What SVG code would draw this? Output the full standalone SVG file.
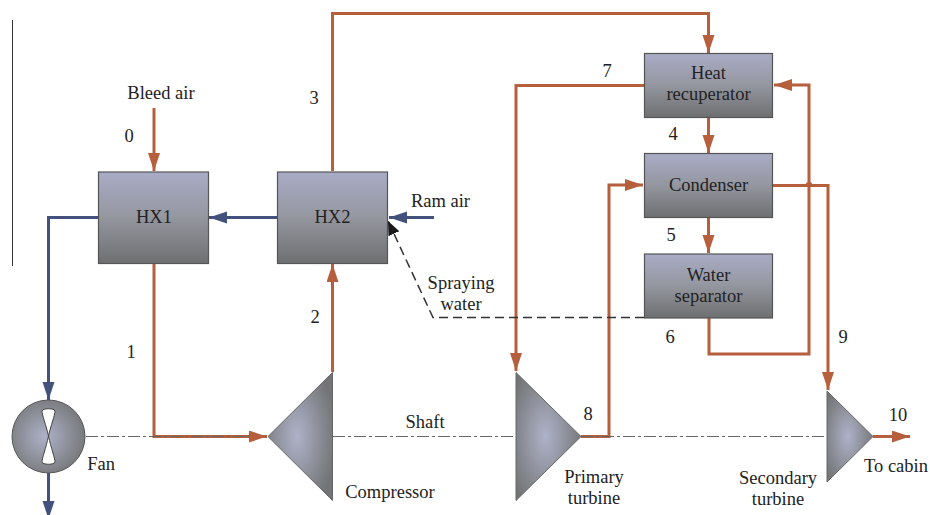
<svg xmlns="http://www.w3.org/2000/svg" width="930" height="515" viewBox="0 0 930 515">
<defs>
<linearGradient id="box" x1="0" y1="0" x2="0" y2="1"><stop offset="0" stop-color="#a9acc6"/><stop offset="0.5" stop-color="#94969f"/><stop offset="1" stop-color="#6e6f70"/></linearGradient>
<radialGradient id="tri" cx="0.45" cy="0.5" r="0.6"><stop offset="0" stop-color="#aeb2c8"/><stop offset="1" stop-color="#737475"/></radialGradient>
<marker id="r" markerUnits="userSpaceOnUse" markerWidth="19" markerHeight="14" refX="18" refY="6" orient="auto"><path d="M0 0L18 6L0 12Z" fill="#b65f3d"/></marker>
<marker id="b" markerUnits="userSpaceOnUse" markerWidth="19" markerHeight="14" refX="18" refY="6" orient="auto"><path d="M0 0L18 6L0 12Z" fill="#43527d"/></marker>
<marker id="k" markerUnits="userSpaceOnUse" markerWidth="18" markerHeight="14" refX="14" refY="6" orient="auto"><path d="M0 0L14 6L0 12Z" fill="#1a1a1a"/></marker>
</defs>
<style>
text{font-family:"Liberation Serif","Times New Roman",serif;font-size:18.5px;fill:#222;text-anchor:middle}
.n{fill:url(#box);stroke:#555;stroke-width:1.2}
.t{fill:url(#tri);stroke:#666;stroke-width:1}
.red,.blue,.dash,.shaft{fill:none}
.red{stroke:#b65f3d;stroke-width:3}
.blue{stroke:#43527d;stroke-width:3}
.dash{stroke:#333;stroke-width:1.5;stroke-dasharray:9 5}
.shaft{stroke:#666;stroke-width:1.2;stroke-dasharray:12 3 3 3}
</style>
<path d="M12.500 20V266" stroke="#333" stroke-width="1" fill="none"/>
<g id="connectors">
<path class="red" d="M154 108V171" marker-end="url(#r)"/>
<path class="red" d="M154 264V436.500H267" marker-end="url(#r)"/>
<path class="red" d="M332.500 372V264" marker-end="url(#r)"/>
<path class="red" d="M332.500 171V13.500H708.500V53" marker-end="url(#r)"/>
<path class="red" d="M644 85.500H516V371" marker-end="url(#r)"/>
<path class="red" d="M708.500 117V153" marker-end="url(#r)"/>
<path class="red" d="M708.500 217V253" marker-end="url(#r)"/>
<path class="red" d="M581 436.500H609V185H643" marker-end="url(#r)"/>
<path class="red" d="M709 318V354H809V85H774" marker-end="url(#r)"/>
<path class="red" d="M773 185.500H828V390" marker-end="url(#r)"/>
<path d="M805.500 185.500a3.500 3.500 0 0 1 7 0" fill="#b65f3d"/>
<path class="red" d="M873 436.500H910" marker-end="url(#r)"/>
<path class="blue" d="M277 217.500H209" marker-end="url(#b)"/>
<path class="blue" d="M434 217.500H389" marker-end="url(#b)"/>
<path class="blue" d="M98 217.500H48.500V400" marker-end="url(#b)"/>
<path class="blue" d="M48.500 473V519" marker-end="url(#b)"/>
<path class="dash" d="M644 317.500H433L388 221" marker-end="url(#k)"/>
<path class="shaft" d="M86 436.500H250M333 436.500H516M581 436.500H827"/>
</g>
<g id="hx1"><rect class="n" x="98.500" y="172" width="110" height="91.500"/><text x="154" y="223">HX1</text></g>
<g id="hx2"><rect class="n" x="277.500" y="172" width="110" height="91.500"/><text x="332.500" y="223">HX2</text></g>
<g id="heat-recuperator"><rect class="n" x="644.500" y="53.500" width="128" height="64"/><text x="708.500" y="79">Heat</text><text x="708.500" y="100">recuperator</text></g>
<g id="condenser"><rect class="n" x="644.500" y="153.500" width="128" height="64"/><text x="708.500" y="191">Condenser</text></g>
<g id="water-separator"><rect class="n" x="644.500" y="254" width="128" height="64"/><text x="708.500" y="281">Water</text><text x="708.500" y="302">separator</text></g>
<g id="compressor"><path class="t" d="M268 436.500L332.500 372.500V500.500Z"/><text x="390" y="498">Compressor</text></g>
<g id="primary-turbine"><path class="t" d="M516 372.500L581 436.500L516 500.500Z"/><text x="594" y="483">Primary</text><text x="594" y="504">turbine</text></g>
<g id="secondary-turbine"><path class="t" d="M827 391L873 436.500L827 482Z"/><text x="778" y="484">Secondary</text><text x="778" y="505">turbine</text></g>
<g id="fan"><circle cx="48.500" cy="436.500" r="36.500" fill="url(#tri)" stroke="#555" stroke-width="1"/><path d="M48.500 436C46 425 42 415 42 411C42 408 55 408 55 411C55 415 51 425 48.500 436C51 448 55 458 55 462C55 465 42 465 42 462C42 458 46 448 48.500 436Z" fill="#fff" stroke="#444"/><text x="101" y="470">Fan</text></g>
<g id="labels">
<text x="161" y="99">Bleed air</text>
<text x="129" y="142">0</text><text x="131" y="358">1</text><text x="315" y="323">2</text><text x="314" y="104">3</text>
<text x="673" y="140">4</text><text x="671" y="241">5</text><text x="670" y="343">6</text><text x="607" y="77">7</text>
<text x="588" y="420">8</text><text x="843" y="343">9</text><text x="898" y="421">10</text>
<text x="440.500" y="207">Ram air</text><text x="461" y="289">Spraying</text><text x="461" y="310">water</text>
<text x="425" y="428">Shaft</text><text x="896" y="472">To cabin</text>
</g>
</svg>
